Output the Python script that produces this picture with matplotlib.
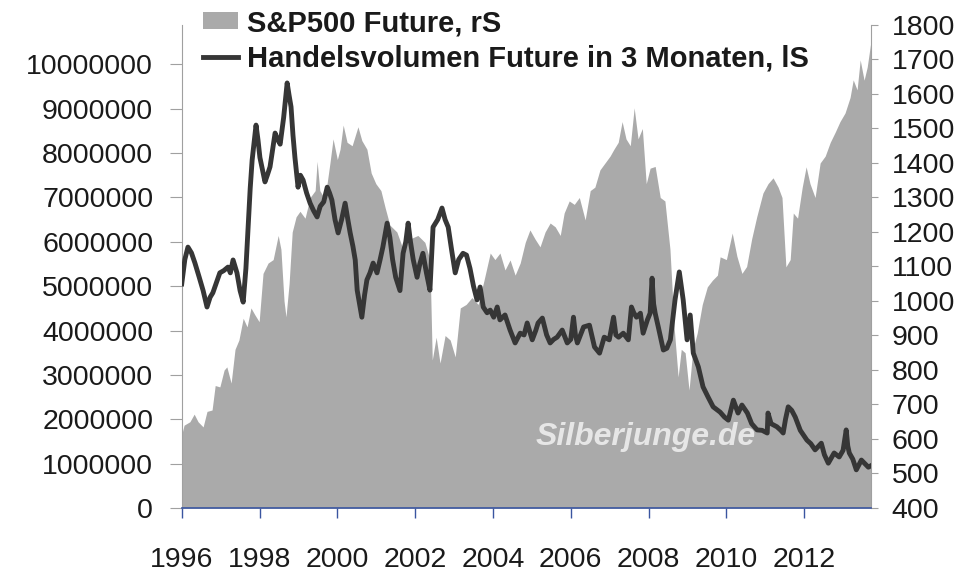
import matplotlib
matplotlib.use('Agg')
import matplotlib.pyplot as plt
from matplotlib.patches import Patch
from matplotlib.lines import Line2D
from matplotlib.ticker import FixedLocator, FuncFormatter

plt.rcParams['font.family'] = ['Liberation Sans', 'DejaVu Sans']

# ---- S&P500 future (right scale) ----
sp_years = [1996.01, 1996.06, 1996.21, 1996.32, 1996.42, 1996.55, 1996.65, 1996.78, 1996.86, 1996.98,
            1997.09, 1997.16, 1997.27, 1997.37, 1997.47, 1997.58, 1997.68, 1997.78, 1997.88, 1997.99,
            1998.09, 1998.22, 1998.35, 1998.48, 1998.55, 1998.63, 1998.68, 1998.76, 1998.84, 1998.94,
            1999.04, 1999.17, 1999.30, 1999.43, 1999.48, 1999.55, 1999.68, 1999.81, 1999.89, 2000.00,
            2000.07, 2000.15, 2000.25, 2000.38, 2000.53, 2000.63, 2000.76, 2000.87, 2000.99, 2001.12,
            2001.23, 2001.35, 2001.53, 2001.69, 2001.87, 2002.07, 2002.25, 2002.38, 2002.44, 2002.54,
            2002.64, 2002.77, 2002.90, 2003.03, 2003.16, 2003.31, 2003.46, 2003.62, 2003.77, 2003.93,
            2004.05, 2004.18, 2004.31, 2004.44, 2004.57, 2004.70, 2004.83, 2004.95, 2005.08, 2005.21,
            2005.34, 2005.47, 2005.60, 2005.73, 2005.83, 2005.96, 2006.09, 2006.22, 2006.37, 2006.50,
            2006.62, 2006.75, 2006.88, 2007.01, 2007.11, 2007.22, 2007.32, 2007.42, 2007.53, 2007.63,
            2007.73, 2007.84, 2007.94, 2008.04, 2008.17, 2008.30, 2008.42, 2008.55, 2008.66, 2008.76,
            2008.84, 2008.94, 2009.04, 2009.14, 2009.25, 2009.38, 2009.51, 2009.64, 2009.77, 2009.84,
            2010.00, 2010.15, 2010.27, 2010.40, 2010.52, 2010.65, 2010.78, 2010.94, 2011.07, 2011.20,
            2011.33, 2011.43, 2011.53, 2011.64, 2011.72, 2011.83, 2011.95, 2012.05, 2012.15, 2012.28,
            2012.41, 2012.54, 2012.67, 2012.80, 2012.92, 2013.05, 2013.18, 2013.26, 2013.36, 2013.44,
            2013.54, 2013.62, 2013.71]
sp_values = [617, 640, 650, 672, 650, 635, 680, 684, 755, 751,
             800, 809, 762, 860, 887, 950, 925, 980, 960, 940,
             1080, 1110, 1120, 1190, 1150, 1000, 954, 1050, 1200, 1244,
             1260, 1240, 1300, 1320, 1405, 1320, 1295, 1400, 1470, 1410,
             1440, 1510, 1460, 1450, 1505, 1465, 1440, 1371, 1340, 1320,
             1270, 1220, 1200, 1150, 1180, 1190, 1170, 1120, 829, 895,
             820, 900, 887, 838, 980, 990, 1010, 990, 1060, 1139,
             1120, 1139, 1090, 1119, 1075, 1110, 1170, 1206, 1180, 1157,
             1200, 1226, 1215, 1190, 1255, 1290, 1280, 1300, 1235, 1320,
             1330, 1380, 1400, 1420, 1440, 1460, 1520, 1470, 1450, 1560,
             1470, 1500, 1340, 1385, 1390, 1300, 1290, 1150, 920, 780,
             860, 850, 742, 860, 907, 990, 1041, 1060, 1075, 1128,
             1120, 1197, 1130, 1080, 1100, 1180, 1244, 1313, 1340, 1357,
             1330, 1300, 1099, 1120, 1255, 1240, 1330, 1389, 1340, 1300,
             1400, 1420, 1460, 1490, 1520, 1545, 1590, 1641, 1612, 1699,
             1640, 1678, 1748]

# ---- trading volume of the 3-month future (left scale, millions) ----
vol_years = [1996.00, 1996.08, 1996.16, 1996.25, 1996.34, 1996.45, 1996.55, 1996.65, 1996.73, 1996.80,
             1996.90, 1996.98, 1997.08, 1997.19, 1997.25, 1997.32, 1997.42, 1997.50, 1997.58, 1997.65,
             1997.70, 1997.76, 1997.81, 1997.91, 1997.96, 1998.01, 1998.08, 1998.14, 1998.20, 1998.27,
             1998.34, 1998.40, 1998.47, 1998.53, 1998.62, 1998.71, 1998.76, 1998.81, 1998.86, 1998.91,
             1998.99, 1999.05, 1999.12, 1999.21, 1999.30, 1999.39, 1999.48, 1999.56, 1999.65, 1999.74,
             1999.80, 1999.86, 1999.94, 2000.02, 2000.11, 2000.20, 2000.27, 2000.33, 2000.40, 2000.46,
             2000.51, 2000.57, 2000.63, 2000.70, 2000.76, 2000.84, 2000.92, 2001.02, 2001.10, 2001.17,
             2001.28, 2001.35, 2001.42, 2001.50, 2001.61, 2001.69, 2001.76, 2001.82, 2001.88, 2001.95,
             2002.05, 2002.12, 2002.20, 2002.29, 2002.38, 2002.46, 2002.58, 2002.69, 2002.77, 2002.85,
             2002.94, 2003.03, 2003.12, 2003.23, 2003.32, 2003.41, 2003.50, 2003.59, 2003.67, 2003.75,
             2003.85, 2003.93, 2004.02, 2004.11, 2004.18, 2004.31, 2004.44, 2004.57, 2004.70, 2004.80,
             2004.88, 2005.01, 2005.10, 2005.16, 2005.27, 2005.38, 2005.47, 2005.56, 2005.65, 2005.78,
             2005.91, 2006.00, 2006.07, 2006.12, 2006.17, 2006.25, 2006.33, 2006.48, 2006.61, 2006.74,
             2006.86, 2006.99, 2007.10, 2007.16, 2007.23, 2007.35, 2007.48, 2007.56, 2007.62, 2007.69,
             2007.79, 2007.86, 2007.97, 2008.04, 2008.09, 2008.13, 2008.17, 2008.25, 2008.38, 2008.47,
             2008.56, 2008.68, 2008.79, 2008.89, 2008.99, 2009.07, 2009.15, 2009.28, 2009.40, 2009.53,
             2009.66, 2009.84, 2009.95, 2010.05, 2010.18, 2010.30, 2010.40, 2010.54, 2010.65, 2010.79,
             2010.92, 2011.05, 2011.07, 2011.15, 2011.30, 2011.40, 2011.46, 2011.52, 2011.59, 2011.68,
             2011.77, 2011.90, 2012.07, 2012.17, 2012.28, 2012.44, 2012.52, 2012.62, 2012.77, 2012.90,
             2013.00, 2013.08, 2013.12, 2013.16, 2013.25, 2013.34, 2013.47, 2013.56, 2013.65, 2013.71]
vol_millions = [5.05, 5.6, 5.88, 5.75, 5.52, 5.2, 4.9, 4.53, 4.75, 4.85,
                5.1, 5.3, 5.35, 5.43, 5.3, 5.59, 5.3, 4.9, 4.64, 5.4,
                6.2, 7.2, 7.84, 8.63, 8.3, 7.9, 7.6, 7.35, 7.5, 7.69,
                8.1, 8.45, 8.3, 8.2, 8.8, 9.58, 9.3, 9.04, 8.4, 7.9,
                7.23, 7.5, 7.39, 7.1, 6.87, 6.7, 6.56, 6.8, 6.9, 7.23,
                7.1, 6.94, 6.5, 6.2, 6.5, 6.87, 6.5, 6.2, 5.9, 5.59,
                4.91, 4.6, 4.3, 4.8, 5.14, 5.3, 5.52, 5.3, 5.6, 5.88,
                6.42, 6.1, 5.6, 5.2, 4.9, 5.74, 6.0, 6.42, 6.0, 5.6,
                5.2, 5.5, 5.74, 5.3, 4.91, 6.33, 6.5, 6.76, 6.5, 6.33,
                5.8, 5.3, 5.6, 5.74, 5.7, 5.4, 5.0, 4.69, 4.98, 4.53,
                4.4, 4.46, 4.3, 4.53, 4.24, 4.35, 4.01, 3.72, 3.94, 3.9,
                4.17, 3.79, 4.0, 4.17, 4.28, 3.9, 3.72, 3.8, 3.85, 4.01,
                3.72, 3.8, 4.30, 3.9, 3.72, 3.9, 4.08, 4.12, 3.63, 3.49,
                3.85, 3.79, 4.30, 3.9, 3.85, 3.94, 3.79, 4.53, 4.4, 4.30,
                4.39, 3.94, 4.24, 4.39, 5.18, 4.6, 4.39, 4.08, 3.56, 3.6,
                3.79, 4.69, 5.32, 4.69, 3.79, 4.35, 3.49, 3.18, 2.73, 2.50,
                2.28, 2.16, 2.05, 1.98, 2.43, 2.14, 2.32, 2.14, 1.9, 1.76,
                1.75, 1.69, 2.14, 1.9, 1.83, 1.75, 1.69, 2.0, 2.28, 2.2,
                2.05, 1.75, 1.53, 1.45, 1.31, 1.46, 1.2, 1.01, 1.24, 1.15,
                1.3, 1.76, 1.4, 1.24, 1.1, 0.86, 1.08, 1.0, 0.92, 0.95]

x_ticks = [1996, 1998, 2000, 2002, 2004, 2006, 2008, 2010, 2012]
left_ticks = [0, 1000000, 2000000, 3000000, 4000000, 5000000, 6000000, 7000000, 8000000, 9000000, 10000000]
right_ticks = [400, 500, 600, 700, 800, 900, 1000, 1100, 1200, 1300, 1400, 1500, 1600, 1700, 1800]
legend_labels = ['S&P500 Future, rS', 'Handelsvolumen Future in 3 Monaten, lS']
watermark = 'Silberjunge.de'

AREA = '#aaaaaa'
LINE = '#363636'
TXT = '#1a1a1a'
SPINE = '#a0a0a0'
AXBLUE = '#3a55a0'

fig = plt.figure(figsize=(9.62, 5.72), dpi=100)
ax = fig.add_axes([0.1889, 0.1119, 0.7162, 0.8444])
ax2 = ax.twinx()
ax.set_zorder(ax2.get_zorder() + 1)
ax.patch.set_visible(False)

# area on the right scale
ax2.fill_between(sp_years, right_ticks[0], sp_values, color=AREA, lw=0)
ax2.set_ylim(400, 1800)
ax2.yaxis.set_major_locator(FixedLocator(right_ticks))

# volume line on the left scale
vol_abs = [v * 1e6 for v in vol_millions]
ax.plot(vol_years, vol_abs, color=LINE, lw=3.5, solid_joinstyle='round', zorder=3)
ax.set_ylim(0, 10.886e6)
ax.yaxis.set_major_locator(FixedLocator(left_ticks))
ax.yaxis.set_major_formatter(FuncFormatter(lambda v, p: f'{int(round(v))}'))

ax.set_xlim(1996, 2013.71)
ax.xaxis.set_major_locator(FixedLocator(x_ticks))
ax.xaxis.set_major_formatter(FuncFormatter(lambda v, p: f'{int(round(v))}'))

for s in ['top', 'right']:
    ax.spines[s].set_visible(False)
ax.spines['left'].set_color(SPINE)
ax.spines['left'].set_linewidth(0.8)
ax.spines['bottom'].set_color(AXBLUE)
ax.spines['bottom'].set_linewidth(1.2)
for s in ['top', 'left', 'bottom']:
    ax2.spines[s].set_visible(False)
ax2.spines['right'].set_color(SPINE)
ax2.spines['right'].set_linewidth(0.8)

ax.tick_params(axis='y', direction='out', length=8.5, width=0.8, color=SPINE,
               pad=12, labelsize=20.5, labelcolor=TXT)
ax.tick_params(axis='x', direction='out', length=7, width=1.0, color=AXBLUE,
               pad=21, labelsize=20.5, labelcolor=TXT)
ax2.tick_params(axis='y', direction='out', length=5, width=0.8, color=SPINE,
                pad=10, labelsize=20.5, labelcolor=TXT)

ax.text(0.674, 0.147, watermark, transform=ax.transAxes, fontsize=23,
        fontweight='bold', fontstyle='italic', color='#e6e6e6',
        ha='center', va='center', zorder=2)

handles = [Patch(facecolor=AREA, edgecolor='none'),
           Line2D([], [], color=LINE, lw=3.5)]
leg = fig.legend(handles=handles, labels=legend_labels, loc='upper left',
                 bbox_to_anchor=(203 / 962, 1 - 9 / 572), frameon=False,
                 prop={'weight': 'bold', 'size': 21}, handlelength=1.2,
                 handleheight=0.55, handletextpad=0.3, labelspacing=0.26,
                 borderpad=0, borderaxespad=0)
for t in leg.get_texts():
    t.set_color(TXT)

fig.savefig('out.png', dpi=100)
